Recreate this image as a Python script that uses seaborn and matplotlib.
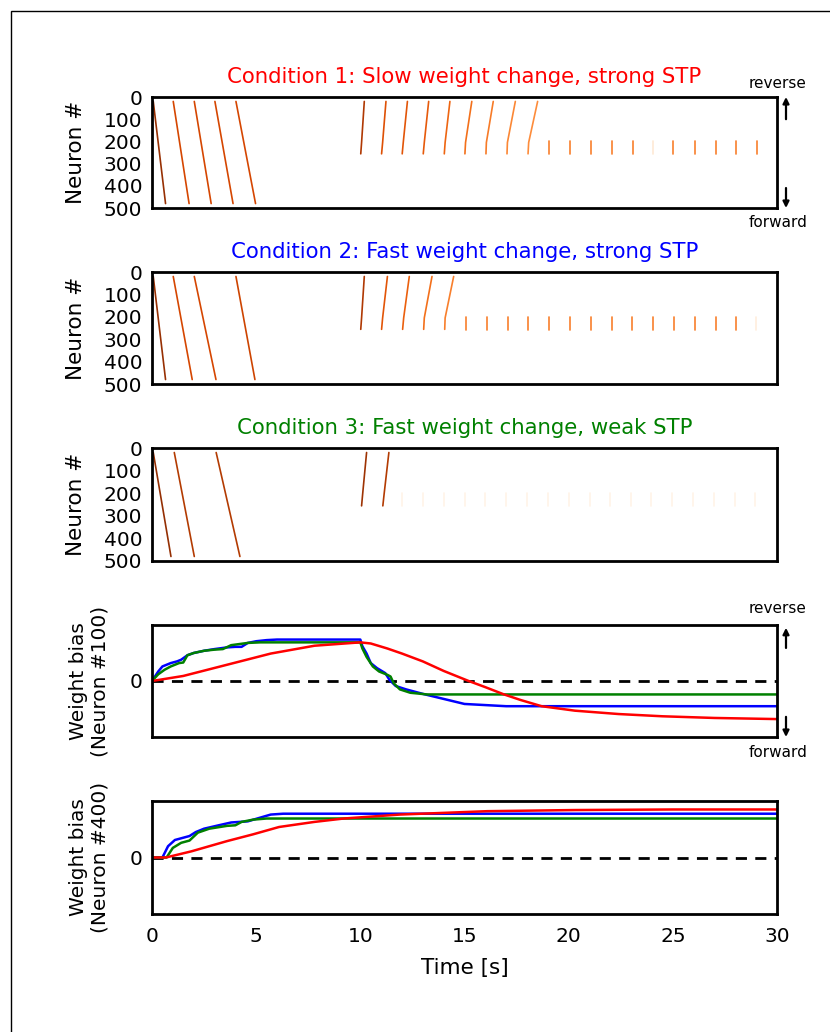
import numpy as np
import pandas as pd
import matplotlib
matplotlib.use("Agg")
import matplotlib.pyplot as plt
import seaborn as sns
from matplotlib.patches import Rectangle

sns.set_theme(style="white")
plt.rcParams['font.family'] = ['DejaVu Sans']
plt.rcParams['text.color'] = 'black'
plt.rcParams['axes.labelcolor'] = 'black'
plt.rcParams['xtick.color'] = 'black'
plt.rcParams['ytick.color'] = 'black'

# ---------------------------------------------------------------- raster data
# neuron index extent of the travelling waves and of the stationary bursts
WAVE_TOP, WAVE_BOTTOM = 20, 480
REV_BOTTOM, REV_KINK = 256, 205
BURST_LOW, BURST_HIGH = 200, 258

# Condition 1: slow weight change, strong STP
c1_fwd_start = [0.06, 1.02, 2.03, 3.02, 4.03]
c1_fwd_end = [0.65, 1.78, 2.84, 3.89, 4.97]
c1_fwd_level = [0.92, 0.76, 0.76, 0.76, 0.76]
c1_rev_start = [10.02, 11.02, 12.01, 13.02, 14.03, 15.02, 16.03, 17.04, 18.05]
c1_rev_kink = [10.06, 11.07, 12.06, 13.07, 14.07, 15.05, 16.05, 17.06, 18.08]
c1_rev_end = [10.19, 11.23, 12.26, 13.28, 14.30, 15.35, 16.38, 17.44, 18.51]
c1_rev_level = [0.85, 0.72, 0.70, 0.68, 0.64, 0.60, 0.56, 0.52, 0.50]
c1_tick_t = [19.06, 20.06, 21.07, 22.08, 23.10, 24.03, 25.00, 26.04, 27.05, 28.04, 29.05]
c1_tick_level = [0.55, 0.55, 0.55, 0.55, 0.55, 0.10, 0.55, 0.55, 0.55, 0.55, 0.55]

# Condition 2: fast weight change, strong STP
c2_fwd_start = [0.06, 1.02, 2.03, 4.03]
c2_fwd_end = [0.65, 1.93, 3.07, 4.94]
c2_fwd_level = [0.92, 0.76, 0.76, 0.78]
c2_rev_start = [10.02, 11.02, 12.03, 13.04, 14.05]
c2_rev_kink = [10.06, 11.07, 12.08, 13.07, 14.07]
c2_rev_end = [10.19, 11.30, 12.35, 13.44, 14.48]
c2_rev_level = [0.85, 0.70, 0.66, 0.60, 0.55]
c2_tick_t = [15.05, 16.06, 17.07, 18.06, 19.07, 20.05, 21.06, 22.06, 23.06, 24.06,
             25.06, 26.06, 27.05, 28.04, 29.00]
c2_tick_level = [0.55] * 14 + [0.06]

# Condition 3: fast weight change, weak STP
c3_fwd_start = [0.06, 1.07, 3.08]
c3_fwd_end = [0.91, 2.03, 4.22]
c3_fwd_level = [0.93, 0.84, 0.84]
c3_rev_start = [10.06, 11.08]
c3_rev_kink = [10.11, 11.14]
c3_rev_end = [10.30, 11.37]
c3_rev_level = [0.90, 0.84]
c3_tick_t = [12.0, 13.0, 14.0, 15.0, 16.0, 17.0, 18.0, 19.0, 20.0, 21.0,
             21.98, 22.97, 23.97, 24.96, 25.97, 26.96, 27.97, 28.96]
c3_tick_level = [0.012] * 18

# ------------------------------------------------------- weight bias traces
# neuron #100
n100_red_t = [0, 1.5, 3.6, 5.7, 7.8, 10.0, 10.5, 11.3, 12.0, 13.0, 14.0, 15.2, 16.0,
              16.9, 17.7, 18.7, 20.3, 22.4, 24.5, 27.0, 30.0]
n100_red_w = [0, 0.09, 0.29, 0.49, 0.63, 0.69, 0.67, 0.58, 0.49, 0.35, 0.18, 0.0, -0.11,
              -0.24, -0.34, -0.45, -0.53, -0.59, -0.63, -0.66, -0.68]
n100_blue_t = [0, 0.3, 0.5, 0.9, 1.2, 1.4, 1.7, 2.0, 2.5, 3.0, 3.6, 4.0, 4.3, 4.6, 5.0,
               5.5, 6.0, 10.0, 10.1, 10.3, 10.5, 10.8, 11.2, 11.4, 11.7, 12.2, 13.0,
               14.0, 15.0, 16.0, 17.0, 30.0]
n100_blue_w = [0, 0.17, 0.26, 0.32, 0.35, 0.38, 0.46, 0.50, 0.54, 0.57, 0.60, 0.61, 0.61,
               0.68, 0.71, 0.73, 0.74, 0.74, 0.62, 0.49, 0.32, 0.23, 0.14, 0.02, -0.09,
               -0.15, -0.23, -0.32, -0.41, -0.43, -0.45, -0.45]
n100_green_t = [0, 0.3, 0.6, 0.9, 1.3, 1.5, 1.7, 2.0, 2.5, 3.0, 3.4, 3.8, 4.2, 4.6, 5.2,
                10.0, 10.1, 10.3, 10.6, 10.9, 11.3, 11.45, 11.6, 11.9, 12.4, 13.2, 30.0]
n100_green_w = [0, 0.12, 0.20, 0.26, 0.32, 0.33, 0.46, 0.50, 0.54, 0.56, 0.57, 0.64, 0.66,
                0.68, 0.69, 0.69, 0.58, 0.43, 0.26, 0.17, 0.11, 0.08, -0.04, -0.15,
                -0.21, -0.24, -0.24]

# neuron #400
n400_red_t = [0, 0.67, 1.9, 3.6, 4.85, 6.1, 7.8, 9.2, 11.9, 16.1, 20.3, 25.0, 30.0]
n400_red_w = [0, 0, 0.11, 0.29, 0.41, 0.54, 0.63, 0.69, 0.76, 0.82, 0.84, 0.85, 0.85]
n400_blue_t = [0, 0.5, 0.77, 1.1, 1.5, 1.8, 2.1, 2.5, 3.2, 3.8, 4.6, 5.05, 5.7, 6.3, 30.0]
n400_blue_w = [0, 0, 0.20, 0.31, 0.35, 0.38, 0.45, 0.51, 0.57, 0.62, 0.64, 0.69, 0.76,
               0.775, 0.775]
n400_green_t = [0, 0.7, 1.0, 1.4, 1.8, 2.2, 2.75, 3.6, 4.0, 4.3, 4.85, 5.5, 30.0]
n400_green_w = [0, 0, 0.17, 0.26, 0.30, 0.44, 0.51, 0.56, 0.57, 0.63, 0.67, 0.69, 0.69]

titles = ["Condition 1: Slow weight change, strong STP",
          "Condition 2: Fast weight change, strong STP",
          "Condition 3: Fast weight change, weak STP"]
title_colors = ["#ff0000", "#0000ff", "#008000"]
cond_colors = {"slow": "#ff0000", "fast": "#0000ff", "weak": "#008000"}
neuron_ticks = [0, 100, 200, 300, 400, 500]
time_ticks = [0, 5, 10, 15, 20, 25, 30]


def raster_frame(fs, fe, fl, rs, rk, re_, rl, tt, tl):
    rows = []
    seg = 0
    for t0, t1, lv in zip(fs, fe, fl):
        rows += [(seg, t0, WAVE_TOP, lv), (seg, t1, WAVE_BOTTOM, lv)]
        seg += 1
    for t0, tk, t1, lv in zip(rs, rk, re_, rl):
        rows += [(seg, t0, REV_BOTTOM, lv), (seg, tk, REV_KINK, lv), (seg, t1, WAVE_TOP, lv)]
        seg += 1
    for t, lv in zip(tt, tl):
        rows += [(seg, t, BURST_HIGH, lv), (seg, t, BURST_LOW, lv)]
        seg += 1
    return pd.DataFrame(rows, columns=["seg", "t", "neuron", "level"])


rasters = [
    raster_frame(c1_fwd_start, c1_fwd_end, c1_fwd_level, c1_rev_start, c1_rev_kink,
                 c1_rev_end, c1_rev_level, c1_tick_t, c1_tick_level),
    raster_frame(c2_fwd_start, c2_fwd_end, c2_fwd_level, c2_rev_start, c2_rev_kink,
                 c2_rev_end, c2_rev_level, c2_tick_t, c2_tick_level),
    raster_frame(c3_fwd_start, c3_fwd_end, c3_fwd_level, c3_rev_start, c3_rev_kink,
                 c3_rev_end, c3_rev_level, c3_tick_t, c3_tick_level),
]


def trace_frame(parts):
    frames = []
    for name, t, w in parts:
        frames.append(pd.DataFrame({"t": t, "w": w, "cond": name}))
    return pd.concat(frames, ignore_index=True)


traces = [
    trace_frame([("fast", n100_blue_t, n100_blue_w), ("weak", n100_green_t, n100_green_w),
                 ("slow", n100_red_t, n100_red_w)]),
    trace_frame([("fast", n400_blue_t, n400_blue_w), ("weak", n400_green_t, n400_green_w),
                 ("slow", n400_red_t, n400_red_w)]),
]

# ----------------------------------------------------------------- layout
W, H = 830, 1032
fig = plt.figure(figsize=(W / 100, H / 100), dpi=100)
fig.patch.set_facecolor("white")

left_px, right_px = 152, 777
boxes_px = [(97, 208), (272, 384), (448, 561), (625, 737), (801, 914)]
axes = []
for top, bot in boxes_px:
    ax = fig.add_axes([left_px / W, 1 - bot / H, (right_px - left_px) / W, (bot - top) / H])
    axes.append(ax)

# figure border (left and top edges)
fig.add_artist(Rectangle((11 / W, -0.05), 1.2, 1 - 11 / H + 0.05, transform=fig.transFigure,
                         fill=False, edgecolor="black", linewidth=1.0, clip_on=False))

TICK_FS = 14.5
LABEL_FS = 15.5
for ax in axes:
    ax.set_xlim(0, 30)
    for sp in ax.spines.values():
        sp.set_linewidth(2.0)
        sp.set_color("black")
        sp.set_visible(True)
    ax.tick_params(length=0, pad=7, labelsize=TICK_FS, colors="black")

# raster panels
for i, (ax, df) in enumerate(zip(axes[:3], rasters)):
    sns.lineplot(data=df, x="t", y="neuron", units="seg", estimator=None, sort=False,
                 hue="level", palette="Oranges", hue_norm=(0, 1), legend=False,
                 linewidth=1.2, ax=ax)
    ax.set_ylim(500, 0)
    ax.set_yticks(neuron_ticks)
    ax.set_xticks([])
    ax.set_xlabel("")
    ax.set_ylabel("Neuron #", fontsize=LABEL_FS, labelpad=13)
    ax.set_title(titles[i], color=title_colors[i], fontsize=15.3, pad=10)

# weight bias panels
labels = ["Weight bias\n(Neuron #100)", "Weight bias\n(Neuron #400)"]
for ax, df, lab in zip(axes[3:], traces, labels):
    ax.axhline(0, color="black", linewidth=2.0, dashes=(4, 3), zorder=1)
    sns.lineplot(data=df, x="t", y="w", hue="cond", palette=cond_colors, estimator=None,
                 sort=False, legend=False, linewidth=1.8, ax=ax, zorder=2)
    ax.set_ylim(-1, 1)
    ax.set_yticks([0])
    ax.set_ylabel(lab, fontsize=14.5, labelpad=14)
    ax.set_xlabel("")

axes[3].set_xticks([])
axes[4].set_xticks(time_ticks)
axes[4].tick_params(axis="x", pad=9)
axes[4].set_xlabel("Time [s]", fontsize=LABEL_FS, labelpad=9)

# direction annotations
for ax, up0, up1, dn0, dn1, ty_top, ty_bot in [
        (axes[0], 0.80, 1.0, 0.18, 0.0, 1.125, -0.13),
        (axes[3], 0.795, 0.975, 0.18, 0.0, 1.15, -0.135)]:
    ax_x = 1 + 9 / (right_px - left_px)
    ax.annotate("", xy=(ax_x, up1), xytext=(ax_x, up0), xycoords="axes fraction",
                arrowprops=dict(arrowstyle="-|>", color="black", lw=1.6, mutation_scale=9,
                                shrinkA=0, shrinkB=0))
    ax.annotate("", xy=(ax_x, dn1), xytext=(ax_x, dn0), xycoords="axes fraction",
                arrowprops=dict(arrowstyle="-|>", color="black", lw=1.6, mutation_scale=9,
                                shrinkA=0, shrinkB=0))
    ax.text(1.0015, ty_top, "reverse", transform=ax.transAxes, ha="center", va="center",
            fontsize=11)
    ax.text(1.0015, ty_bot, "forward", transform=ax.transAxes, ha="center", va="center",
            fontsize=11)

fig.savefig("out.png", dpi=100, facecolor="white")
